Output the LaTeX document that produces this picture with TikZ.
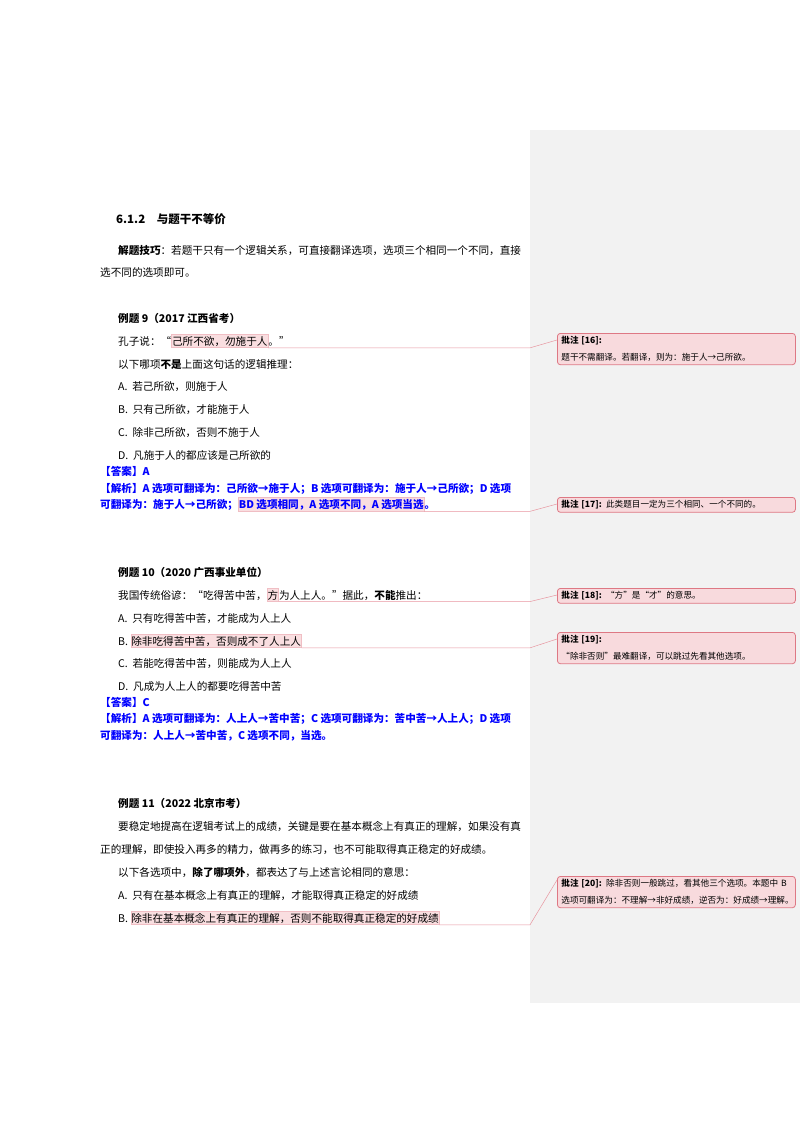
\documentclass[tikz,border=0pt]{standalone}
\usepackage{fontspec}
\setmainfont{Noto Sans CJK SC}
\begin{document}
\begin{tikzpicture}[x=1pt,y=-1pt,
  t/.style={anchor=base west,inner sep=0pt,font=\fontsize{10.6}{13}\selectfont},
  b/.style={t,font=\fontsize{10.6}{13}\selectfont\bfseries},
  bl/.style={t,text=blue,font=\fontsize{10.6}{13}\selectfont\bfseries},
  hl/.style={t,fill=hlfill,draw=hlbox,line width=0.4pt,inner ysep=1.5pt,inner xsep=0.5pt},
  cbox/.style={draw=cline,fill=cfill,rounded corners=3pt,line width=0.8pt,anchor=north west,
    text width=230pt,inner xsep=4pt,inner ysep=3pt,align=left,
    font=\fontsize{8.6}{17}\selectfont},
  cl/.style={draw=hlline,line width=0.5pt}]
\definecolor{hlfill}{RGB}{249,222,224}
\definecolor{hlbox}{RGB}{240,190,196}
\definecolor{hlline}{RGB}{232,150,160}
\definecolor{cfill}{RGB}{248,218,221}
\definecolor{cline}{RGB}{222,120,132}
\definecolor{panel}{RGB}{242,242,242}
\useasboundingbox (0,0) rectangle (800,1132);
\fill[white] (0,0) rectangle (800,1132);
\fill[panel] (530,130) rectangle (800,1003);

\node[b,font=\fontsize{11.5}{13}\selectfont\bfseries] (h) at (116,223) {6.1.2\quad 与题干不等价};
\node[t] (tip1) at (118,254) {\textbf{解题技巧}：若题干只有一个逻辑关系，可直接翻译选项，选项三个相同一个不同，直接};
\node[t] (tip2) at (100,276) {选不同的选项即可。};

\node[b] (e9) at (118,322) {例题 9（2017 江西省考）};
\node[t] (k1) at (118,345) {孔子说：“};
\node[hl] (h16) at (k1.base east) {己所不欲，勿施于人};
\node[t] (k2) at (h16.base east) {。”};
\node[t] (q9) at (118,368) {以下哪项\textbf{不是}上面这句话的逻辑推理：};
\node[t] (a9) at (118,390) {A.\ \ 若己所欲，则施于人};
\node[t] (b9) at (118,413) {B.\ \ 只有己所欲，才能施于人};
\node[t] (c9) at (118,436) {C.\ \ 除非己所欲，否则不施于人};
\node[t] (d9) at (118,459) {D.\ \ 凡施于人的都应该是己所欲的};
\node[bl] (ans9) at (100,475) {【答案】A};
\node[bl] (ex9a) at (100,492) {【解析】A 选项可翻译为：己所欲→施于人；B 选项可翻译为：施于人→己所欲；D 选项};
\node[bl] (ex9b) at (100,508) {可翻译为：施于人→己所欲；};
\node[bl,fill=hlfill,draw=hlbox,line width=0.4pt,inner ysep=1.5pt,inner xsep=0.5pt] (h17) at (ex9b.base east) {BD 选项相同，A 选项不同，A 选项当选};
\node[bl] (ex9c) at (h17.base east) {。};

\node[b] (e10) at (118,576) {例题 10（2020 广西事业单位）};
\node[t] (w1) at (118,599) {我国传统俗谚：“吃得苦中苦，};
\node[hl] (h18) at (w1.base east) {方};
\node[t] (w2) at (h18.base east) {为人上人。”据此，\textbf{不能}推出：};
\node[t] (a10) at (118,622) {A.\ \ 只有吃得苦中苦，才能成为人上人};
\node[t] (b10) at (118,645) {B.\ \ };
\node[hl] (h19) at (b10.base east) {除非吃得苦中苦，否则成不了人上人};
\node[t] (c10) at (118,667) {C.\ \ 若能吃得苦中苦，则能成为人上人};
\node[t] (d10) at (118,690) {D.\ \ 凡成为人上人的都要吃得苦中苦};
\node[bl] (ans10) at (100,706) {【答案】C};
\node[bl] (ex10a) at (100,722) {【解析】A 选项可翻译为：人上人→苦中苦；C 选项可翻译为：苦中苦→人上人；D 选项};
\node[bl] (ex10b) at (100,739) {可翻译为：人上人→苦中苦，C 选项不同，当选。};

\node[b] (e11) at (118,807) {例题 11（2022 北京市考）};
\node[t] (p1) at (118,830) {要稳定地提高在逻辑考试上的成绩，关键是要在基本概念上有真正的理解，如果没有真};
\node[t] (p2) at (100,853) {正的理解，即使投入再多的精力，做再多的练习，也不可能取得真正稳定的好成绩。};
\node[t] (q11) at (118,876) {以下各选项中，\textbf{除了哪项外}，都表达了与上述言论相同的意思：};
\node[t] (a11) at (118,899) {A.\ \ 只有在基本概念上有真正的理解，才能取得真正稳定的好成绩};
\node[t] (b11) at (118,922) {B.\ \ };
\node[hl] (h20) at (b11.base east) {除非在基本概念上有真正的理解，否则不能取得真正稳定的好成绩};

\node[cbox] (c16) at (557,333) {\textbf{批注 [16]:} 题干不需翻译。若翻译，则为：施于人→己所欲。};
\node[cbox] (c17) at (557,497) {\textbf{批注 [17]:} 此类题目一定为三个相同、一个不同的。};
\node[cbox] (c18) at (557,588) {\textbf{批注 [18]:} “方”是“才”的意思。};
\node[cbox] (c19) at (557,632) {\textbf{批注 [19]:} “除非否则”最难翻译，可以跳过先看其他选项。};
\node[cbox] (c20) at (557,876) {\textbf{批注 [20]:} 除非否则一般跳过，看其他三个选项。本题中 B 选项可翻译为：不理解→非好成绩，逆否为：好成绩→理解。};

\coordinate (mx) at (530,0);
\draw[cl] (h16.south east) -- (h16.south east -| mx) -- ([yshift=-7pt]c16.north west);
\draw[cl] (h17.south east) -- (h17.south east -| mx) -- ([yshift=-7pt]c17.north west);
\draw[cl] (h18.south east) -- (h18.south east -| mx) -- ([yshift=-7pt]c18.north west);
\draw[cl] (h19.south east) -- (h19.south east -| mx) -- ([yshift=-7pt]c19.north west);
\draw[cl] (h20.south east) -- (h20.south east -| mx) -- ([yshift=-4pt]c20.north west);
\end{tikzpicture}
\end{document}
